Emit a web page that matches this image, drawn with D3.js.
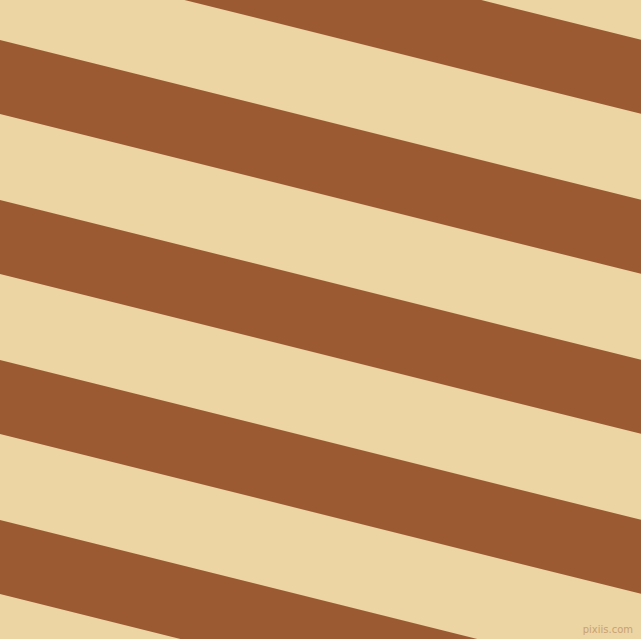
<!DOCTYPE html>
<html>
<head>
<meta charset="utf-8">
<script src="https://cdn.jsdelivr.net/npm/d3@7"></script>
<style>
  html, body { margin: 0; padding: 0; background: #edd4a3; }
  svg { display: block; }
</style>
</head>
<body>
<svg id="chart"></svg>
<script>
// stripe indices (brown bands) and their colours
const bandIndex = [-2, -1, 0, 1, 2, 3, 4];
const bandColors = ["#9b5a32"];
const backColor = "#edd4a3";
const angleDeg = 14;
const watermark = "pixiis.com";

const width = 641;
const height = 639;

const svg = d3.select("#chart").attr("width", width).attr("height", height);

svg.append("rect")
  .attr("width", width)
  .attr("height", height)
  .attr("fill", backColor);

const rad = angleDeg * Math.PI / 180;
const cos = Math.cos(rad);

// position of each band measured across the stripes (rotated frame)
const offset = d3.scaleLinear()
  .domain([0, 1])
  .range([40 * cos, 200 * cos]);
const bandWidth = 74 * cos;

const bands = svg.append("g")
  .attr("transform", `rotate(${angleDeg})`);

bands.selectAll("rect")
  .data(bandIndex)
  .join("rect")
  .attr("x", -400)
  .attr("y", (d) => offset(d))
  .attr("width", 1600)
  .attr("height", bandWidth)
  .attr("fill", bandColors[0]);

svg.append("text")
  .attr("x", 633)
  .attr("y", 633)
  .attr("text-anchor", "end")
  .style("font-family", "DejaVu Sans, sans-serif")
  .style("font-size", "10px")
  .attr("fill", "#c8a272")
  .text(watermark);
</script>
</body>
</html>
